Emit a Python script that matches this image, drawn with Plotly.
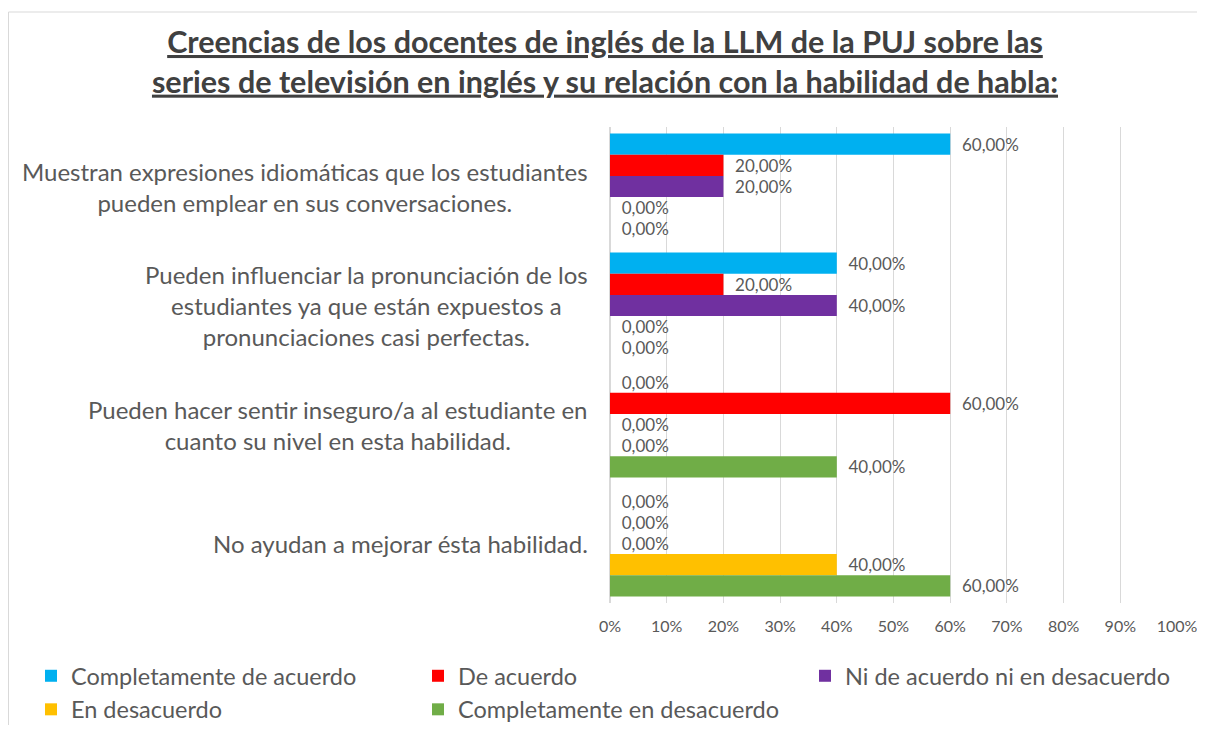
import plotly.graph_objects as go

# categorias (de arriba hacia abajo)
categorias = [
    "Muestran expresiones idiomáticas que los estudiantes<br>pueden emplear en sus conversaciones.",
    "Pueden influenciar la pronunciación de los<br>estudiantes ya que están expuestos a<br>pronunciaciones casi perfectas.",
    "Pueden hacer sentir inseguro/a al estudiante en<br>cuanto su nivel en esta habilidad.",
    "No ayudan a mejorar ésta habilidad.",
]

series = ["Completamente de acuerdo", "De acuerdo", "Ni de acuerdo ni en desacuerdo",
          "En desacuerdo", "Completamente en desacuerdo"]
colores = ["#00B0F0", "#FF0000", "#7030A0", "#FFC000", "#70AD47"]

completamente_de_acuerdo = [0.60, 0.40, 0.00, 0.00]
de_acuerdo = [0.20, 0.20, 0.60, 0.00]
ni_de_acuerdo = [0.20, 0.40, 0.00, 0.00]
en_desacuerdo = [0.00, 0.00, 0.00, 0.40]
completamente_en_desacuerdo = [0.00, 0.00, 0.40, 0.60]

valores = [completamente_de_acuerdo, de_acuerdo, ni_de_acuerdo,
           en_desacuerdo, completamente_en_desacuerdo]

ticks_x = [0, 0.1, 0.2, 0.3, 0.4, 0.5, 0.6, 0.7, 0.8, 0.9, 1.0]

FUENTE = "Lato"
GRIS = "#595959"

# la pagina deja 8px de margen, la figura se ajusta a eso
W, H = 1189, 717
L, R, T, B = 602, 20, 119, 122
PW, PH = W - L - R, H - T - B


def px_x(fx):
    return (fx - L) / PW


def px_y(fy):
    return (H - B - fy) / PH


fig = go.Figure()
for nombre, color, vals in zip(series, colores, valores):
    fig.add_trace(go.Bar(
        y=categorias, x=vals, name=nombre, orientation="h",
        marker=dict(color=color, line=dict(width=0)),
        texttemplate="\u00a0\u00a0%{x:.2%}", textposition="outside",
        textfont=dict(size=17, color=GRIS, family=FUENTE),
        cliponaxis=False,
    ))

# etiquetas de categoria centradas como en Excel
for cat in categorias:
    fig.add_annotation(
        xref="paper", yref="y", x=0, y=cat, xanchor="right", xshift=-20,
        text=cat, showarrow=False, align="center",
        font=dict(size=24, color=GRIS, family=FUENTE),
    )

# borde del grafico
fig.add_shape(type="rect", xref="paper", yref="paper",
              x0=px_x(0.5), x1=px_x(1300),
              y0=px_y(900), y1=px_y(4),
              line=dict(color="#D9D9D9", width=1))

fig.update_layout(
    width=W, height=H,
    barmode="group", bargap=0.11, bargroupgap=0,
    separators=",.",
    plot_bgcolor="white", paper_bgcolor="white",
    margin=dict(l=L, r=R, t=T, b=B, autoexpand=False),
    title=dict(
        text="<b><u>Creencias de los docentes de inglés de la LLM de la PUJ sobre las</u></b><br>"
             "<b><u>series de televisión en inglés y su relación con la habilidad de habla:</u></b>",
        x=597 / W, xanchor="center", xref="container",
        y=1 - 45 / H, yanchor="middle", yref="container",
        font=dict(size=30.5, color="#404040", family=FUENTE),
    ),
    xaxis=dict(
        range=[0, 1], tickvals=ticks_x, tickformat=".0%",
        showgrid=True, gridcolor="#D9D9D9", gridwidth=1,
        zeroline=True, zerolinecolor="#D9D9D9", showline=False,
        tickfont=dict(size=16, color=GRIS, family=FUENTE),
        ticks="", ticklabelstandoff=12, ticklabeloverflow="allow",
    ),
    yaxis=dict(
        autorange="reversed", showticklabels=False, showgrid=False,
        zeroline=False, showline=False,
    ),
    legend=dict(
        orientation="h", x=px_x(23), xanchor="left",
        y=px_y(646), yanchor="top",
        entrywidth=342, entrywidthmode="pixels",
        font=dict(size=23.5, color=GRIS, family=FUENTE),
        traceorder="normal", tracegroupgap=0, bgcolor="rgba(0,0,0,0)",
    ),
    font=dict(family=FUENTE, color=GRIS),
)

fig.write_html("out.html")
